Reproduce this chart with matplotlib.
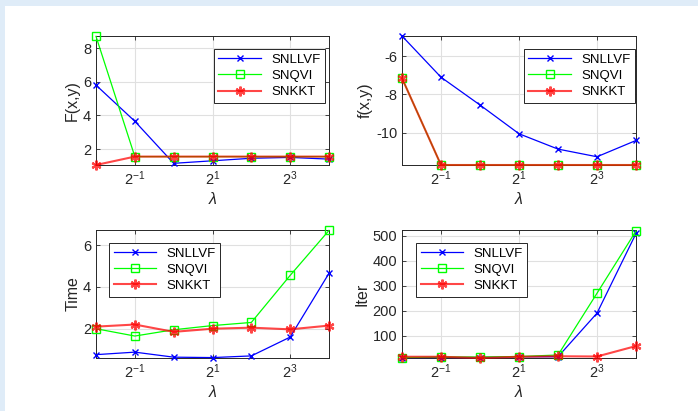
import matplotlib
matplotlib.use("Agg")
import matplotlib.pyplot as plt
from matplotlib.patches import Rectangle
import numpy as np

plt.rcParams['font.family'] = ['Liberation Sans', 'DejaVu Sans']
plt.rcParams['mathtext.fontset'] = 'custom'
plt.rcParams['mathtext.rm'] = 'Liberation Sans'
plt.rcParams['mathtext.it'] = 'Liberation Sans:italic'
plt.rcParams['axes.unicode_minus'] = False

lam = [0.25, 0.5, 1, 2, 4, 8, 16]
series_names = ["SNLLVF", "SNQVI", "SNKKT"]

F_snllvf = [5.8, 3.65, 1.15, 1.3, 1.45, 1.5, 1.4]
F_snqvi = [8.7, 1.55, 1.55, 1.55, 1.55, 1.55, 1.55]
F_snkkt = [1.05, 1.55, 1.55, 1.55, 1.55, 1.55, 1.55]

f_snllvf = [-4.95, -7.1, -8.55, -10.05, -10.85, -11.25, -10.4]
f_snqvi = [-7.15, -11.68, -11.68, -11.68, -11.68, -11.68, -11.68]
f_snkkt = [-7.15, -11.68, -11.68, -11.68, -11.68, -11.68, -11.68]

T_snllvf = [0.76, 0.88, 0.64, 0.62, 0.7, 1.6, 4.65]
T_snqvi = [2.0, 1.65, 1.95, 2.15, 2.3, 4.55, 6.7]
T_snkkt = [2.1, 2.2, 1.85, 2.0, 2.05, 1.97, 2.15]

I_snllvf = [12, 12, 12, 15, 15, 190, 510]
I_snqvi = [12, 14, 14, 16, 22, 270, 520]
I_snkkt = [15, 15, 10, 15, 17, 16, 58]

xticks = [0.5, 2, 8]
xtick_labels = [r"$2^{-1}$", r"$2^{1}$", r"$2^{3}$"]

panels = [
    ("F(x,y)", (F_snllvf, F_snqvi, F_snkkt), [2, 4, 6, 8], "upper right"),
    ("f(x,y)", (f_snllvf, f_snqvi, f_snkkt), [-10, -8, -6], "upper right"),
    ("Time", (T_snllvf, T_snqvi, T_snkkt), [2, 4, 6], "upper left"),
    ("Iter", (I_snllvf, I_snqvi, I_snkkt), [100, 200, 300, 400, 500], "upper left"),
]

fig = plt.figure(figsize=(6.98, 4.11), dpi=100)
fig.patches.append(Rectangle((0, 1 - 6/411), 1, 6/411, transform=fig.transFigure,
                             facecolor='#dfecf8', edgecolor='none', zorder=-10))
fig.patches.append(Rectangle((0, 0), 5/698, 1, transform=fig.transFigure,
                             facecolor='#dfecf8', edgecolor='none', zorder=-10))

positions = [
    (96/698, (411-165)/411, 233/698, 129/411),
    (402/698, (411-165)/411, 234/698, 129/411),
    (96/698, (411-358)/411, 233/698, 128/411),
    (402/698, (411-358)/411, 234/698, 128/411),
]
ylims = [(1.05, 8.72), (-11.68, -4.95), (0.6, 6.72), (10, 524)]
legend_boxes = [
    (0.0, 0.0, 0.983, 0.9),
    (0.0, 0.0, 0.996, 0.9),
    (0.056, 0.0, 0.9, 0.9),
    (0.06, 0.0, 0.9, 0.9),
]
asterisk = (6, 2, 0)

for (ylabel, data, yt, loc), pos, yl, lb in zip(panels, positions, ylims, legend_boxes):
    ax = fig.add_axes(pos)
    ax.set_xscale('log', base=2)
    ax.plot(lam, data[0], color='#0000ff', marker='x', ms=5, mew=1.0, lw=0.9,
            label=series_names[0], clip_on=False, zorder=3)
    ax.plot(lam, data[1], color='#00ff00', marker='s', ms=5.5, mfc='none', mew=1.0, lw=0.9,
            label=series_names[1], clip_on=False, zorder=3)
    ax.plot(lam, data[2], color='#ff0000', marker=asterisk, ms=7, mew=1.6, lw=1.5, alpha=0.72,
            label=series_names[2], clip_on=False, zorder=3)
    ax.set_xlim(0.25, 16)
    ax.set_ylim(*yl)
    ax.set_xticks(xticks)
    ax.set_xticklabels(xtick_labels)
    ax.xaxis.set_minor_locator(matplotlib.ticker.NullLocator())
    ax.set_yticks(yt)
    ax.grid(True, color='#e0e0e0', lw=0.8)
    ax.set_axisbelow(True)
    ax.tick_params(direction='in', length=3, labelsize=10.5, colors='#262626', width=0.6,
                   top=True, right=True)
    for s in ax.spines.values():
        s.set_color('#262626')
        s.set_linewidth(0.7)
    ax.set_ylabel(ylabel, fontsize=11.5, color='#262626', labelpad=2)
    ax.set_xlabel(r"$\lambda$", fontsize=11.5, color='#262626', labelpad=2)
    leg = ax.legend(loc=loc, fontsize=9.5, fancybox=False, framealpha=1,
                    edgecolor='#262626', borderpad=0.35, labelspacing=0.3,
                    handlelength=3.2, borderaxespad=0, bbox_to_anchor=lb)
    leg.get_frame().set_linewidth(0.7)
    leg.set_zorder(5)

fig.savefig("out.png", dpi=100)
